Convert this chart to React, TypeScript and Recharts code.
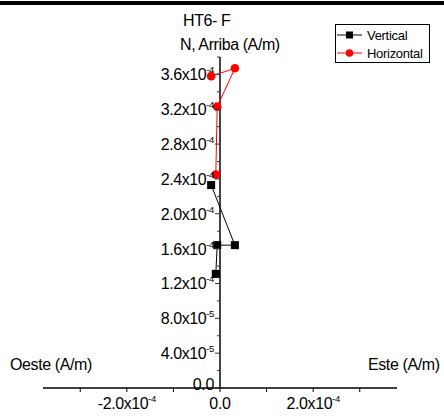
import React from "react";
import {
  LineChart,
  Line,
  XAxis,
  YAxis,
  ReferenceLine,
} from "recharts";

// Vertical (black squares) and Horizontal (red circles) components
const VERTICAL_X = [-1.9e-5, 3.2e-5, -0.6e-5, -0.9e-5];
const VERTICAL_Y = [2.33e-4, 1.64e-4, 1.64e-4, 1.31e-4];
const HORIZONTAL_X = [-1.9e-5, 3.2e-5, -0.6e-5, -0.9e-5];
const HORIZONTAL_Y = [3.58e-4, 3.67e-4, 3.23e-4, 2.45e-4];

const X_TICKS = [-3e-4, -2e-4, -1e-4, 0, 1e-4, 2e-4, 3e-4];
const X_LABELED = [-2e-4, 0, 2e-4];
const Y_TICKS = [
  0, 2e-5, 4e-5, 6e-5, 8e-5, 1e-4, 1.2e-4, 1.4e-4, 1.6e-4, 1.8e-4, 2e-4,
  2.2e-4, 2.4e-4, 2.6e-4, 2.8e-4, 3e-4, 3.2e-4, 3.4e-4, 3.6e-4, 3.8e-4,
];
const Y_LABELED = [0, 4e-5, 8e-5, 1.2e-4, 1.6e-4, 2e-4, 2.4e-4, 2.8e-4, 3.2e-4, 3.6e-4];

const verticalData = VERTICAL_X.map((x, i) => ({ x, y: VERTICAL_Y[i] }));
const horizontalData = HORIZONTAL_X.map((x, i) => ({ x, y: HORIZONTAL_Y[i] }));

const FONT = "'Liberation Sans', Arial, sans-serif";
const W = 444;
const H = 418;
const MARGIN = { top: 57, right: 47, bottom: 0, left: 42 };
const ZERO_X = 220;

const isLabeled = (list: number[], v: number) =>
  list.some((t) => Math.abs(t - v) < 1e-9);

// "4.0x10^-5" style label
const SciText = ({ x, y, value, anchor }: any) => {
  if (Math.abs(value) < 1e-12) {
    return (
      <text x={x} y={y} textAnchor={anchor} fontSize={16} fontFamily={FONT} fill="#000" letterSpacing={-0.3}>
        0.0
      </text>
    );
  }
  const [m, e] = value.toExponential(1).split("e");
  return (
    <text x={x} y={y} textAnchor={anchor} fontSize={16} fontFamily={FONT} fill="#000" letterSpacing={-0.4}>
      <tspan>{m}x10</tspan>
      <tspan fontSize={9.5} dy={-7}>{String(Number(e))}</tspan>
    </text>
  );
};

const YTick = (props: any) => {
  const { y, payload } = props;
  const v = payload.value;
  const major = isLabeled(Y_LABELED, v);
  return (
    <g>
      <line x1={ZERO_X - (major ? 5 : 3)} x2={ZERO_X} y1={y} y2={y} stroke="#333" strokeWidth={1} />
      {major && <SciText x={ZERO_X - 6} y={v === 0 ? y + 2 : y + 6} value={v} anchor="end" />}
    </g>
  );
};

const XTick = (props: any) => {
  const { x, y, payload } = props;
  const v = payload.value;
  if (!isLabeled(X_LABELED, v)) return <g />;
  return <SciText x={x} y={y + 15} value={v} anchor="middle" />;
};

const SquareDot = (props: any) => {
  const { cx, cy, index } = props;
  return <rect key={`sq-${index}`} x={cx - 4} y={cy - 4} width={8} height={8} fill="#000" />;
};

const CircleDot = (props: any) => {
  const { cx, cy, index } = props;
  return <circle key={`ci-${index}`} cx={cx} cy={cy} r={4.3} fill="#ff0000" />;
};

const LEGEND_ITEMS = [
  { name: "Vertical", color: "#000", square: true },
  { name: "Horizontal", color: "#ff0000", square: false },
];

const LegendBox = () => (
  <div
    style={{
      position: "absolute",
      left: 335,
      top: 24,
      border: "1px solid #000",
      width: 95,
      height: 39,
      background: "#fff",
      fontFamily: FONT,
      fontSize: 13,
      boxSizing: "border-box",
      paddingTop: 1,
    }}
  >
    {LEGEND_ITEMS.map((item) => (
      <div key={item.name} style={{ display: "flex", alignItems: "center", height: 18 }}>
        <svg width={28} height={18} style={{ display: "block" }}>
          <line x1={1} x2={26} y1={9} y2={9} stroke={item.color} strokeWidth={1} />
          {item.square ? (
            <rect x={10} y={5.5} width={7} height={7} fill={item.color} />
          ) : (
            <circle cx={13.5} cy={9} r={3.8} fill={item.color} />
          )}
        </svg>
        <span style={{ marginLeft: 3, letterSpacing: -0.3 }}>{item.name}</span>
      </div>
    ))}
  </div>
);

const textStyle: React.CSSProperties = {
  position: "absolute",
  fontFamily: FONT,
  fontSize: 16,
  color: "#000",
  whiteSpace: "nowrap",
  letterSpacing: -0.4,
  lineHeight: "18px",
};

export default function App() {
  return (
    <div style={{ position: "absolute", left: 0, top: 0, width: W, height: H, background: "#fff", overflow: "hidden" }}>
      <LineChart width={W} height={H} margin={MARGIN}>
        <XAxis
          type="number"
          dataKey="x"
          domain={[-3.8e-4, 3.8e-4]}
          ticks={X_TICKS}
          interval={0}
          height={30}
          axisLine={{ stroke: "#000", strokeWidth: 1.5 }}
          tickLine={{ stroke: "#000" }}
          tickSize={4}
          tick={<XTick />}
          allowDataOverflow
        />
        <YAxis
          type="number"
          dataKey="y"
          domain={[0, 3.8e-4]}
          ticks={Y_TICKS}
          interval={0}
          width={1}
          axisLine={false}
          tickLine={false}
          tick={<YTick />}
          allowDataOverflow
        />
        <ReferenceLine x={0} stroke="#444" strokeWidth={2} />
        <Line
          name="Vertical"
          data={verticalData}
          dataKey="y"
          stroke="#000"
          strokeWidth={1}
          dot={<SquareDot />}
          activeDot={false}
          isAnimationActive={false}
        />
        <Line
          name="Horizontal"
          data={horizontalData}
          dataKey="y"
          stroke="#ff0000"
          strokeWidth={1}
          dot={<CircleDot />}
          activeDot={false}
          isAnimationActive={false}
        />
      </LineChart>
      <div style={{ position: "absolute", left: 0, top: 1, width: W, height: 4, background: "#000" }} />
      <LegendBox />
      <div style={{ ...textStyle, left: 183, top: 12 }}>HT6- F</div>
      <div style={{ ...textStyle, left: 180, top: 36 }}>N, Arriba (A/m)</div>
      <div style={{ ...textStyle, left: 10, top: 356 }}>Oeste (A/m)</div>
      <div style={{ ...textStyle, left: 368, top: 356 }}>Este (A/m)</div>
    </div>
  );
}
